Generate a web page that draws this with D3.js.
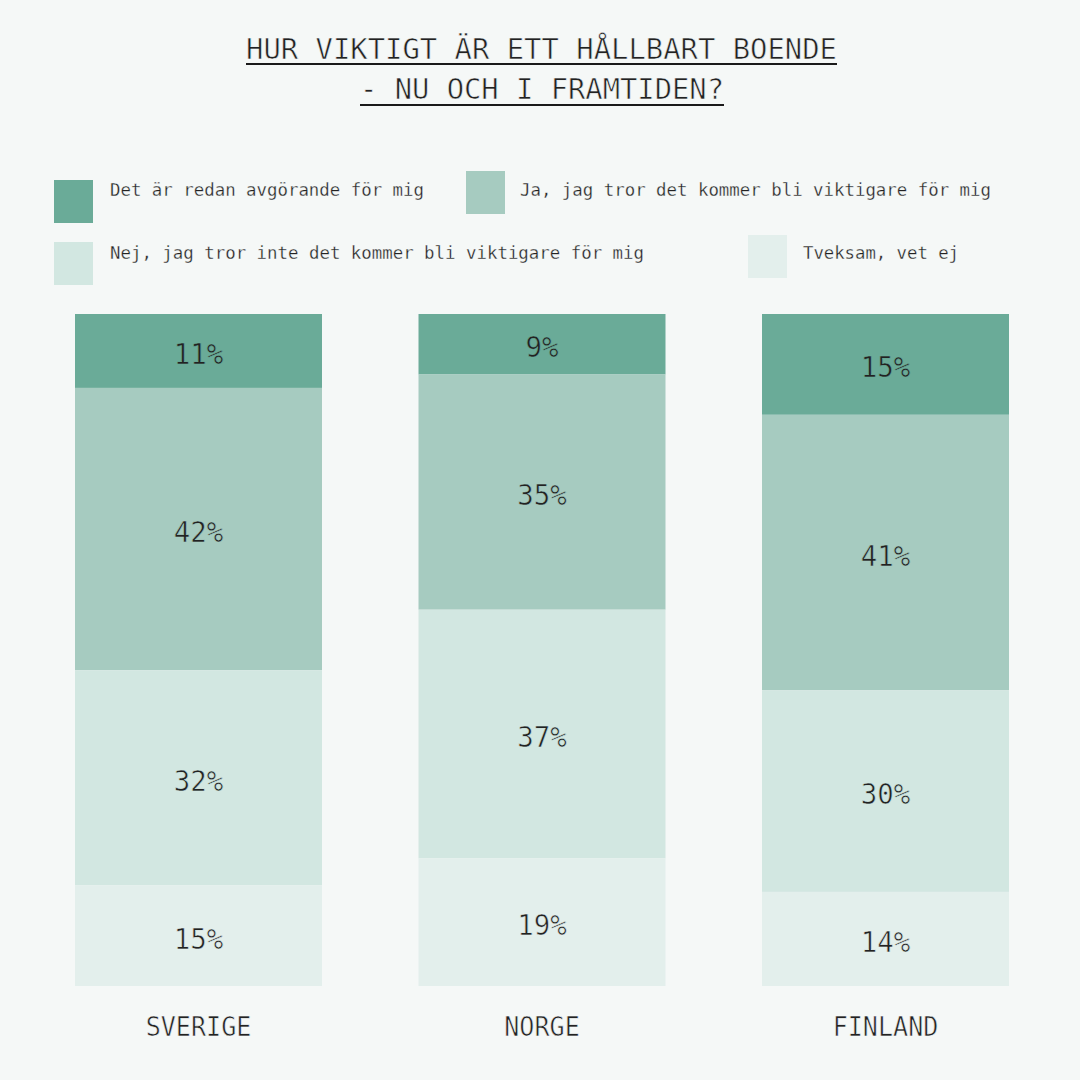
<!DOCTYPE html>
<html><head><meta charset="utf-8">
<script src="https://cdn.jsdelivr.net/npm/d3@7"></script>
<style>
html,body{margin:0;padding:0;background:#f5f8f7;}
svg{display:block;}
text{font-family:"DejaVu Sans Mono","Liberation Mono",monospace;fill:#222;}
</style></head>
<body><svg id="c" width="1080" height="1080"></svg>
<script>
const countries = ["SVERIGE","NORGE","FINLAND"];
const seriesNames = [
  "Det är redan avgörande för mig",
  "Ja, jag tror det kommer bli viktigare för mig",
  "Nej, jag tror inte det kommer bli viktigare för mig",
  "Tveksam, vet ej"
];
const s1 = [11, 9, 15];
const s2 = [42, 35, 41];
const s3 = [32, 37, 30];
const s4 = [15, 19, 14];
const colors = ["#6aab98","#a6cbc0","#d2e7e1","#e3efec"];
const titleLines = ["HUR VIKTIGT ÄR ETT HÅLLBART BOENDE","- NU OCH I FRAMTIDEN?"];
const bg = "#f5f8f7";

const svg = d3.select("#c");
svg.append("rect").attr("width",1080).attr("height",1080).attr("fill",bg);

function thin(sel, col, w){ sel.attr("stroke",col).attr("stroke-width",w).attr("paint-order","normal"); }

// title
const titleSpec = [{y:59, x0:246, x1:837, uy:64},{y:99, x0:360, x1:724, uy:105}];
titleLines.forEach((t,i)=>{
  const s = titleSpec[i];
  const tx = svg.append("text").attr("x",(s.x0+s.x1)/2).attr("y",s.y)
    .attr("text-anchor","middle").attr("font-size",28)
    .attr("textLength",s.x1-s.x0).attr("lengthAdjust","spacingAndGlyphs")
    .attr("fill","#111")
    .text(t);
  thin(tx, bg, 0.6);
  svg.append("line").attr("x1",s.x0).attr("x2",s.x1).attr("y1",s.uy).attr("y2",s.uy)
    .attr("stroke","#1a1a1a").attr("stroke-width",2);
});

// legend
const legendPos = [
  {sx:54, sy:180, tx:110, ty:196, w:314},
  {sx:466, sy:171, tx:520, ty:196, w:471},
  {sx:54, sy:242, tx:110, ty:259, w:534},
  {sx:748, sy:235, tx:803, ty:259, w:156}
];
seriesNames.forEach((n,i)=>{
  const p = legendPos[i];
  svg.append("rect").attr("x",p.sx).attr("y",p.sy).attr("width",39).attr("height",43).attr("fill",colors[i]);
  const tx = svg.append("text").attr("x",p.tx).attr("y",p.ty).attr("font-size",18)
    .attr("textLength",p.w).attr("lengthAdjust","spacingAndGlyphs")
    .attr("fill","#222").text(n);
  thin(tx, bg, 0.3);
});

// data
const table = countries.map((c,i)=>({country:c, a:s1[i], b:s2[i], c2:s3[i], d:s4[i]}));
const keys = ["a","b","c2","d"];
const stack = d3.stack().keys(keys)(table);

const x = d3.scaleBand().domain(countries).range([75,1009]).paddingInner(0.281).paddingOuter(0);
const y = d3.scaleLinear().domain([0,100]).range([314,986]);

const g = svg.append("g");
stack.forEach((layer,li)=>{
  layer.forEach(d=>{
    const y0 = y(d[0]), y1 = y(d[1]);
    g.append("rect").attr("x",x(d.data.country)).attr("y",y0)
      .attr("width",x.bandwidth()).attr("height",y1-y0).attr("fill",colors[li]);
    const label = (d[1]-d[0])+"%";
    const tx = g.append("text").attr("x",x(d.data.country)+x.bandwidth()/2)
      .attr("y",(y0+y1)/2+13).attr("text-anchor","middle").attr("font-size",28)
      .attr("textLength",label.length*16.5).attr("lengthAdjust","spacingAndGlyphs")
      .attr("fill","#161616")
      .text(label);
    thin(tx, colors[li], 0.6);
  });
});

// x axis labels
const xAxis = d3.axisBottom(x).tickSize(0).tickPadding(0);
const ax = svg.append("g").attr("transform","translate(0,1009)").call(xAxis);
ax.select(".domain").remove();
ax.selectAll("text").attr("font-size",27).attr("fill","#111")
  .attr("dy",0).attr("y",27)
  .style("font-family",'"DejaVu Sans Mono","Liberation Mono",monospace')
  .each(function(d){ d3.select(this).attr("textLength", d.length*15.1).attr("lengthAdjust","spacingAndGlyphs"); });
thin(ax.selectAll("text"), bg, 0.6);
</script></body></html>
